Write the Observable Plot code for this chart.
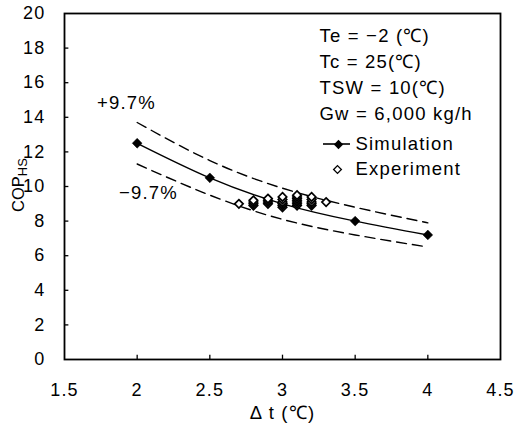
<!DOCTYPE html>
<html>
<head>
<meta charset="utf-8">
<script src="https://cdn.jsdelivr.net/npm/d3@7"></script>
<script src="https://cdn.jsdelivr.net/npm/@observablehq/plot@0.6"></script>
<style>
  html, body { margin: 0; padding: 0; background: white; }
</style>
</head>
<body>
<div id="chart"></div>
<script>
// ---- data ----
const xTicks = [1.5, 2, 2.5, 3, 3.5, 4, 4.5];
const yTicks = [0, 2, 4, 6, 8, 10, 12, 14, 16, 18, 20];

const simDt  = [2, 2.5, 3, 3.5, 4];
const simCop = [12.5, 10.5, 9.0, 8.0, 7.2];
const upperCop = [13.7, 11.5, 9.9, 8.8, 7.9];   // +9.7 %
const lowerCop = [11.3, 9.5, 8.1, 7.2, 6.5];    // -9.7 %

const expDt  = [2.7,
                2.8, 2.8, 2.8, 2.8,
                2.9, 2.9, 2.9, 2.9,
                3.0, 3.0, 3.0, 3.0, 3.0, 3.0,
                3.1, 3.1, 3.1, 3.1, 3.1, 3.1, 3.1,
                3.2, 3.2, 3.2, 3.2, 3.2,
                3.3];
const expCop = [9.0,
                8.9, 9.0, 9.1, 9.2,
                9.0, 9.1, 9.2, 9.3,
                8.8, 8.9, 9.0, 9.1, 9.25, 9.4,
                8.9, 9.0, 9.1, 9.2, 9.3, 9.4, 9.5,
                8.9, 9.0, 9.1, 9.25, 9.4,
                9.1];

const condLines = ["Te = −2 (℃)", "Tc = 25(℃)", "TSW = 10(℃)", "Gw = 6,000 kg/h"];
const seriesNames = ["Simulation", "Experiment"];
const bandLabels = ["+9.7%", "−9.7%"];

const sim = simDt.map((d, i) => ({dt: d, cop: simCop[i]}));
const upper = simDt.map((d, i) => ({dt: d, cop: upperCop[i]}));
const lower = simDt.map((d, i) => ({dt: d, cop: lowerCop[i]}));
const exp = expDt.map((d, i) => ({dt: d, cop: expCop[i]}));

const font = "'Liberation Sans', Arial, sans-serif";
const txt = {frameAnchor: "top-left", textAnchor: "start", lineAnchor: "middle",
             fontSize: 18.5, fill: "black"};

const chart = Plot.plot({
  width: 518,
  height: 428,
  marginLeft: 64,
  marginRight: 18,
  marginTop: 13,
  marginBottom: 69,
  style: {fontFamily: font, fontSize: "18px", color: "black", background: "white"},
  x: {domain: [1.5, 4.5]},
  y: {domain: [0, 20]},
  marks: [
    Plot.axisX({ticks: xTicks, tickSize: 0, tickPadding: 24, label: null, tickFormat: d => String(d)}),
    Plot.axisY({ticks: yTicks, tickSize: 0, tickPadding: 19, label: null}),
    Plot.ruleX(xTicks.slice(1, -1), {x: d => d, y1: 0, y2: 0.25, stroke: "black", strokeWidth: 1.3}),
    Plot.ruleY(yTicks.slice(1, -1), {y: d => d, x1: 1.5, x2: 1.53, stroke: "black", strokeWidth: 1.3}),
    Plot.frame({stroke: "black", strokeWidth: 1.8}),
    Plot.line(upper, {x: "dt", y: "cop", curve: "natural", stroke: "black", strokeWidth: 1.4, strokeDasharray: "10,6"}),
    Plot.line(lower, {x: "dt", y: "cop", curve: "natural", stroke: "black", strokeWidth: 1.4, strokeDasharray: "10,6"}),
    Plot.line(sim, {x: "dt", y: "cop", curve: "natural", stroke: "black", strokeWidth: 1.4}),
    Plot.dot(sim, {x: "dt", y: "cop", symbol: "diamond2", r: 4.4, fill: "black", stroke: "black", strokeWidth: 0.5}),
    Plot.dot(exp, {x: "dt", y: "cop", symbol: "diamond2", r: 3.8, fill: "white", stroke: "black", strokeWidth: 1.7}),
    // band labels
    Plot.text([bandLabels[0]], {...txt, textAnchor: "middle", dx: 62, dy: 90}),
    Plot.text([bandLabels[1]], {...txt, textAnchor: "middle", dx: 84, dy: 180}),
    // condition text
    ...condLines.map((t, i) => Plot.text([t], {...txt, dx: 255, dy: 23 + i * 25.7})),
    // legend
    Plot.text([seriesNames[0]], {...txt, dx: 291, dy: 131}),
    Plot.text([seriesNames[1]], {...txt, dx: 291, dy: 156}),
    Plot.dot([0], {frameAnchor: "top-left", dx: 274, dy: 131, symbol: "diamond2", r: 4.2, fill: "black"}),
    Plot.dot([0], {frameAnchor: "top-left", dx: 273, dy: 156, symbol: "diamond2", r: 3.5, fill: "white", stroke: "black", strokeWidth: 1.3}),
    // x axis title
    Plot.text(["Δ t (℃)"], {frameAnchor: "bottom", dx: 0, dy: 54, fontSize: 18.5, lineAnchor: "middle"})
  ]
});

const svg = d3.select(chart);
svg.selectAll("text").attr("letter-spacing", "1.2");
svg.select('g[aria-label="x-axis tick label"]').attr("letter-spacing", "2.5");

// legend line segment
svg.append("line")
  .attr("x1", 323).attr("x2", 350).attr("y1", 144).attr("y2", 144)
  .attr("stroke", "black").attr("stroke-width", 1.6);

// y axis title with subscript
const yl = svg.append("text")
  .attr("transform", "translate(24,185) rotate(-90)")
  .attr("text-anchor", "middle")
  .attr("font-family", font)
  .attr("font-size", 16.5)
  .attr("fill", "black");
yl.append("tspan").text("COP");
yl.append("tspan").attr("font-size", 13).attr("dy", 3).text("HS");

document.getElementById("chart").appendChild(chart);
</script>
</body>
</html>
